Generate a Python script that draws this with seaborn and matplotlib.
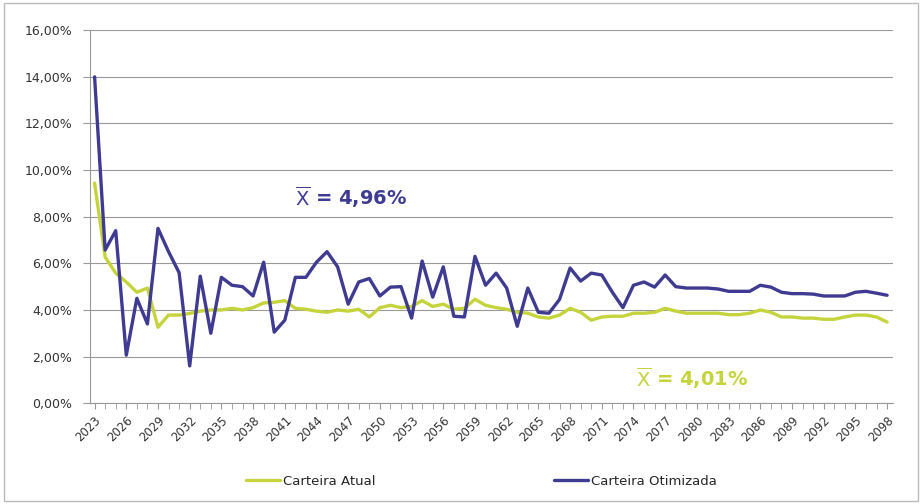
import numpy as np
import pandas as pd
import seaborn as sns
import matplotlib.pyplot as plt
from matplotlib.ticker import FuncFormatter, MultipleLocator

# dados (% ao ano)
anos = list(range(2023, 2099))

carteira_atual = [
    9.44, 6.27, 5.58, 5.20, 4.76, 4.94, 3.26, 3.78, 3.78, 3.85,
    3.95, 4.00, 4.00, 4.07, 4.00, 4.10, 4.30, 4.33, 4.40, 4.07,
    4.03, 3.95, 3.90, 4.00, 3.95, 4.03, 3.70, 4.10, 4.20, 4.10,
    4.15, 4.40, 4.15, 4.25, 4.03, 4.07, 4.46, 4.20, 4.10, 4.03,
    3.90, 3.86, 3.70, 3.65, 3.78, 4.07, 3.90, 3.56, 3.70, 3.73,
    3.73, 3.86, 3.86, 3.90, 4.07, 3.95, 3.86, 3.86, 3.86, 3.86,
    3.80, 3.80, 3.86, 4.00, 3.90, 3.70, 3.70, 3.65, 3.65, 3.60,
    3.60, 3.70, 3.78, 3.78, 3.70, 3.48,
]

carteira_otimizada = [
    14.00, 6.57, 7.40, 2.06, 4.50, 3.40, 7.50, 6.50, 5.60, 1.60,
    5.45, 3.00, 5.40, 5.06, 5.00, 4.60, 6.05, 3.05, 3.56, 5.40,
    5.40, 6.05, 6.50, 5.85, 4.25, 5.20, 5.35, 4.60, 4.98, 5.00,
    3.65, 6.10, 4.55, 5.85, 3.73, 3.70, 6.30, 5.06, 5.58, 4.94,
    3.30, 4.94, 3.90, 3.86, 4.45, 5.80, 5.24, 5.58, 5.50, 4.76,
    4.10, 5.06, 5.20, 4.98, 5.50, 5.00, 4.94, 4.94, 4.94, 4.90,
    4.80, 4.80, 4.80, 5.06, 4.98, 4.76, 4.70, 4.70, 4.68, 4.60,
    4.60, 4.60, 4.76, 4.80, 4.72, 4.63,
]

series = ['Carteira Atual', 'Carteira Otimizada']
cores = ['#c5d43c', '#3f3a92']

df = pd.DataFrame({'ano': anos,
                   'Carteira Atual': carteira_atual,
                   'Carteira Otimizada': carteira_otimizada})
df_long = df.melt(id_vars='ano', var_name='carteira', value_name='retorno')

sns.set_style('white')
plt.rcParams['font.family'] = ['DejaVu Sans']

fig = plt.figure(figsize=(9.22, 5.04), dpi=100)
ax = fig.add_axes([0.098, 0.200, 0.871, 0.740])

sns.lineplot(data=df_long, x='ano', y='retorno', hue='carteira',
             hue_order=series, palette=cores, linewidth=2.4, ax=ax,
             legend=False)

ax.set_ylim(0, 16)
ax.set_xlim(2022.6, 2098.6)
ax.yaxis.set_major_locator(MultipleLocator(2))
ax.yaxis.set_major_formatter(FuncFormatter(lambda v, p: f'{v:.2f}%'.replace('.', ',')))
ax.grid(axis='y', color='#999999', linewidth=0.8)
ax.set_axisbelow(True)

ax.set_xticks(anos[::3])
ax.set_xticks(anos, minor=True)
ax.set_xticklabels([str(a) for a in anos[::3]], rotation=45, ha='right',
                   rotation_mode='anchor', fontsize=8.5, color='#333333')
ax.tick_params(axis='x', which='both', direction='out', length=4, color='#999999', bottom=True)
ax.tick_params(axis='y', length=5, direction='out', color='#999999', left=True,
               labelsize=9, labelcolor='#333333', pad=8)
ax.set_xlabel('')
ax.set_ylabel('')

for s in ['top', 'right']:
    ax.spines[s].set_visible(False)
ax.spines['left'].set_color('#999999')
ax.spines['bottom'].set_color('#999999')

ax.text(2042.0, 8.5, r'$\overline{\mathsf{X}}$ = 4,96%', color='#3f3a92',
        fontsize=14, fontweight='bold')
ax.text(2074.2, 0.75, r'$\overline{\mathsf{X}}$ = 4,01%', color='#c5d43c',
        fontsize=14, fontweight='bold')

handles = [plt.Line2D([], [], color=c, linewidth=2.4) for c in cores]
fig.legend(handles, series, loc='center', bbox_to_anchor=(0.522, 0.045),
           ncol=2, frameon=False, columnspacing=13.5, handlelength=2.6,
           handletextpad=0.2, fontsize=9.5)

fig.patches.append(plt.Rectangle((0.004, 0.006), 0.992, 0.988, transform=fig.transFigure,
                                 fill=False, edgecolor='#bbbbbb', linewidth=1))

fig.savefig('out.png', dpi=100)
